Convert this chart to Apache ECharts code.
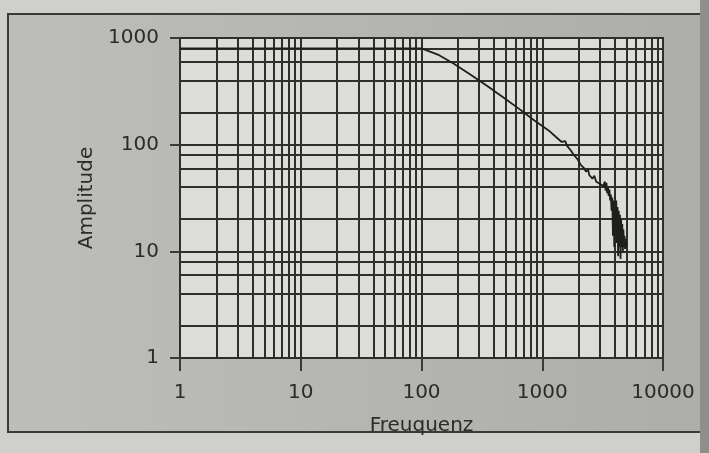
<!DOCTYPE html>
<html>
<head>
<meta charset="utf-8">
<script src="https://cdn.jsdelivr.net/npm/echarts@6/dist/echarts.min.js"></script>
<style>
html,body{margin:0;padding:0;background:#cfcfcc;}
#c{width:709px;height:453px;}
</style>
</head>
<body>
<div id="c"></div>
<script>
// Data (frequency in Hz, amplitude)
const freq = [1, 2, 5, 10, 20, 50, 100, 140, 184, 250, 348, 480, 656, 850, 1130, 1300, 1450, 1500, 1550, 1600, 1700, 1800, 1960, 2100, 2200, 2300, 2400, 2450, 2500, 2600, 2700, 2800, 2900, 3000, 3100, 3200,
  3300, 3350, 3400, 3450, 3500, 3550, 3600, 3650, 3700, 3750, 3800, 3850, 3900, 3950, 4000, 4050, 4100, 4150, 4200, 4250, 4300, 4350, 4400, 4450, 4500, 4550, 4600, 4650, 4700, 4750, 4800, 4850, 4900, 4950, 5000];
const amp = [800, 800, 800, 800, 800, 800, 800, 690, 577, 460, 356, 275, 213, 170, 136, 118, 106, 104, 108, 98, 90, 82, 73, 64, 61, 56, 58, 52, 54, 48, 51, 45, 46, 43, 44, 41,
  45, 37, 44, 35, 40, 33, 38, 30, 34, 24, 32, 14, 30, 11, 28, 16, 30, 12, 26, 9, 24, 11, 22, 8.5, 20, 11, 18, 10, 16, 11, 14, 10.5, 13, 11, 12];
const xTicks = [1, 10, 100, 1000, 10000];
const yTicks = [1, 10, 100, 1000];
const xMinorFactors = [2, 3, 4, 5, 6, 7, 8, 9];
const yMinorFactors = [2, 4, 6, 8];

const points = freq.map((f, i) => [f, amp[i]]);
const gridColor = '#2e2e2c';
const minorLines = [];
xTicks.slice(0, -1).forEach(d => xMinorFactors.forEach(k => minorLines.push({ xAxis: d * k })));
yTicks.slice(0, -1).forEach(d => yMinorFactors.forEach(k => minorLines.push({ yAxis: d * k })));

const chart = echarts.init(document.getElementById('c'), null, { renderer: 'canvas' });
const font = 'DejaVu Sans';
const fmt = v => String(Math.round(v));
chart.setOption({
  animation: false,
  backgroundColor: '#cfcfcc',
  graphic: [
    { type: 'rect', z: -10, shape: { x: 8, y: 14, width: 694, height: 418 },
      style: { fill: new echarts.graphic.LinearGradient(0, 0, 1, 0, [{ offset: 0, color: '#bdbdb9' }, { offset: 1, color: '#adada9' }]), stroke: '#3a3a38', lineWidth: 2 } },
    { type: 'rect', z: -9, shape: { x: 700, y: 0, width: 9, height: 453 }, style: { fill: '#8e8e8b' } }
  ],
  grid: { left: 180, right: 46, top: 38, bottom: 95, show: true, backgroundColor: '#dcdcd8', borderColor: gridColor, borderWidth: 2 },
  xAxis: {
    type: 'log', logBase: 10, min: 1, max: 10000,
    name: 'Freuquenz', nameLocation: 'middle', nameGap: 58,
    nameTextStyle: { fontFamily: font, fontSize: 20, color: '#2b2b2b' },
    axisLine: { show: true, lineStyle: { color: gridColor, width: 2 } },
    axisTick: { show: true, length: 13, lineStyle: { color: '#3a3a3a', width: 2 } },
    axisLabel: { fontFamily: font, fontSize: 20, color: '#2b2b2b', margin: 25, formatter: fmt },
    splitLine: { show: true, lineStyle: { color: gridColor, width: 2 } }
  },
  yAxis: {
    type: 'log', logBase: 10, min: 1, max: 1000,
    name: 'Amplitude', nameLocation: 'middle', nameGap: 73, nameRotate: 90,
    nameTextStyle: { fontFamily: font, fontSize: 20, color: '#2b2b2b' },
    axisLine: { show: true, lineStyle: { color: gridColor, width: 2 } },
    axisTick: { show: true, length: 10, lineStyle: { color: '#3a3a3a', width: 2 } },
    axisLabel: { fontFamily: font, fontSize: 20, color: '#2b2b2b', margin: 21, formatter: fmt },
    splitLine: { show: true, lineStyle: { color: gridColor, width: 2 } }
  },
  series: [{
    type: 'line',
    data: points,
    showSymbol: false,
    lineStyle: { color: '#1e1e1c', width: 1.8 },
    z: 5,
    markLine: {
      silent: true, symbol: ['none', 'none'], label: { show: false },
      lineStyle: { color: gridColor, width: 2, type: 'solid' },
      data: minorLines, z: 1
    }
  }]
});
</script>
</body>
</html>
